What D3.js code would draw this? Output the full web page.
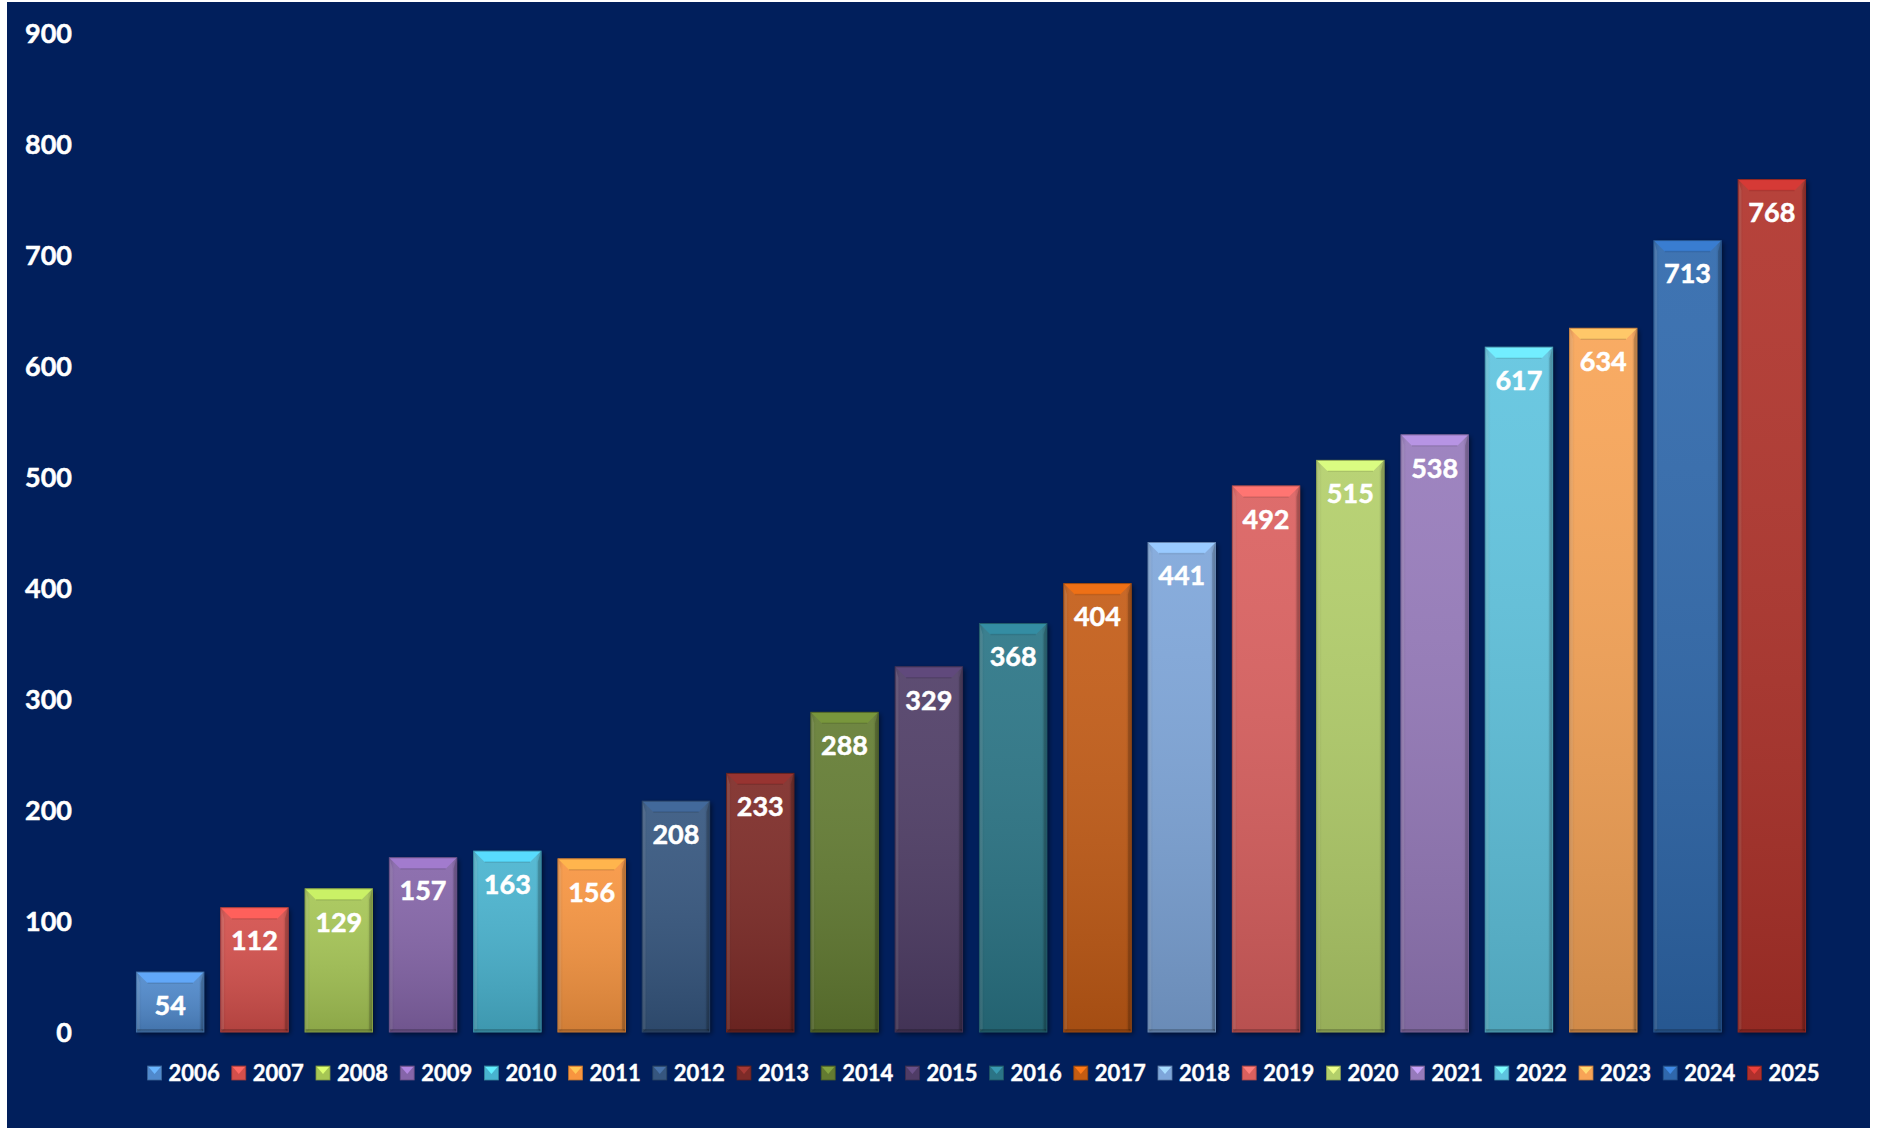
<!DOCTYPE html>
<html>
<head>
<meta charset="utf-8">
<script src="https://cdn.jsdelivr.net/npm/d3@7"></script>
<style>
  body { margin: 0; background: #fff; }
  svg { display: block; }
</style>
</head>
<body>
<div id="chart"></div>
<script>
// Bar chart per year, bevelled Excel-like bars on navy background

const years = ["2006", "2007", "2008", "2009", "2010", "2011", "2012", "2013", "2014", "2015",
  "2016", "2017", "2018", "2019", "2020", "2021", "2022", "2023", "2024", "2025"];
const values = [54, 112, 129, 157, 163, 156, 208, 233, 288, 329,
  368, 404, 441, 492, 515, 538, 617, 634, 713, 768];
const colors = ["#5089cc", "#d44f4b", "#a6c654", "#8565a9", "#48b4d0", "#f8953f",
  "#36567f", "#7d2b28", "#637b31", "#4f3c66", "#2b7486", "#c45c12",
  "#7ea6da", "#db605e", "#b3cf6a", "#967abb", "#5ec4df", "#f8a456",
  "#2f67ac", "#b0302c"];
const yTicks = [0, 100, 200, 300, 400, 500, 600, 700, 800, 900];

const width = 1885,
  height = 1130,
  bg = "#011f5c";

const svg = d3.select("#chart")
  .append("svg")
  .attr("width", width)
  .attr("height", height);

const defs = svg.append("defs");

// shading overlay: lighter top, darker bottom
const shade = defs.append("linearGradient")
  .attr("id", "shade")
  .attr("x1", 0).attr("y1", 0).attr("x2", 0).attr("y2", 1);
shade.append("stop").attr("offset", "0%").attr("stop-color", "#fff").attr("stop-opacity", 0.08);
shade.append("stop").attr("offset", "100%").attr("stop-color", "#000").attr("stop-opacity", 0.16);

const sideShade = defs.append("linearGradient")
  .attr("id", "sideShade")
  .attr("x1", 0).attr("y1", 0).attr("x2", 1).attr("y2", 0);
sideShade.append("stop").attr("offset", "0%").attr("stop-color", "#000").attr("stop-opacity", 0.12);
sideShade.append("stop").attr("offset", "8%").attr("stop-color", "#000").attr("stop-opacity", 0);
sideShade.append("stop").attr("offset", "92%").attr("stop-color", "#000").attr("stop-opacity", 0);
sideShade.append("stop").attr("offset", "100%").attr("stop-color", "#000").attr("stop-opacity", 0.18);

defs.append("filter")
  .attr("id", "shadow")
  .attr("x", "-20%").attr("y", "-10%").attr("width", "140%").attr("height", "120%")
  .append("feDropShadow")
  .attr("dx", 2).attr("dy", 2).attr("stdDeviation", 2.5)
  .attr("flood-color", "#000").attr("flood-opacity", 0.55);

svg.append("rect")
  .attr("x", 7)
  .attr("y", 2)
  .attr("width", 1863)
  .attr("height", 1126)
  .attr("fill", bg);

const x = d3.scaleBand()
  .domain(years)
  .range([128, 1814])
  .paddingInner(0.2)
  .paddingOuter(0.1);

const y = d3.scaleLinear()
  .domain([0, 900])
  .range([1032, 33]);

const font = "Lato, 'Open Sans', sans-serif";

// y axis labels
svg.append("g")
  .selectAll("text")
  .data(yTicks)
  .join("text")
  .attr("x", 72)
  .attr("y", d => y(d))
  .attr("dy", "0.36em")
  .attr("text-anchor", "end")
  .attr("font-family", font)
  .attr("font-weight", "bold")
  .attr("font-size", 27)
  .attr("fill", "#fff")
  .attr("stroke", "#fff")
  .attr("stroke-width", 0.5)
  .text(d => d);

const data = years.map((yr, i) => ({ year: yr, value: values[i], color: colors[i] }));

const bars = svg.append("g")
  .selectAll("g")
  .data(data)
  .join("g")
  .attr("transform", d => `translate(${x(d.year)},${y(d.value)})`);

const bw = x.bandwidth();
const bev = 11;
const h = d => y(0) - y(d.value);

bars.append("rect")
  .attr("width", bw)
  .attr("height", h)
  .attr("fill", d => d.color)
  .attr("filter", "url(#shadow)");

bars.append("rect")
  .attr("width", bw)
  .attr("height", h)
  .attr("fill", "url(#shade)");

bars.append("rect")
  .attr("width", bw)
  .attr("height", h)
  .attr("fill", "url(#sideShade)");

// top bevel
bars.append("path")
  .attr("d", `M0,0 H${bw} L${bw - bev},${bev} H${bev} Z`)
  .attr("fill", d => d3.color(d.color).brighter(0.55));

bars.append("path")
  .attr("d", `M${bev},${bev} H${bw - bev}`)
  .attr("stroke", "#000")
  .attr("stroke-opacity", 0.12)
  .attr("stroke-width", 1.5);

// side bevels
bars.append("path")
  .attr("d", d => `M0,0 L${bev * 0.3},${bev} V${h(d) - 3} L0,${h(d)} Z`)
  .attr("fill", "#fff")
  .attr("opacity", 0.1);

bars.append("path")
  .attr("d", d => `M${bw},0 L${bw - bev * 0.3},${bev} V${h(d) - 3} L${bw},${h(d)} Z`)
  .attr("fill", "#000")
  .attr("opacity", 0.15);

// bottom edge
bars.append("rect")
  .attr("y", d => h(d) - 3)
  .attr("width", bw)
  .attr("height", 3)
  .attr("fill", "#000")
  .attr("opacity", 0.2);

bars.append("rect")
  .attr("width", bw)
  .attr("height", h)
  .attr("fill", "none")
  .attr("stroke", d => d3.color(d.color).darker(0.6))
  .attr("stroke-width", 1);

// value labels
bars.append("text")
  .attr("x", bw / 2)
  .attr("y", 33)
  .attr("dy", "0.36em")
  .attr("text-anchor", "middle")
  .attr("font-family", font)
  .attr("font-weight", "bold")
  .attr("font-size", 27)
  .attr("fill", "#fff")
  .attr("stroke", "#fff")
  .attr("stroke-width", 0.5)
  .text(d => d.value);

// legend
const legend = svg.append("g")
  .selectAll("g")
  .data(data)
  .join("g")
  .attr("transform", (d, i) => `translate(${147.6 + i * 84.2},1073)`);

const ms = 14;

legend.append("rect")
  .attr("y", -ms / 2)
  .attr("width", ms)
  .attr("height", ms)
  .attr("fill", d => d.color)
  .attr("stroke", d => d3.color(d.color).darker(0.8))
  .attr("stroke-width", 0.8);

legend.append("path")
  .attr("d", `M1,${-ms / 2 + 1} H${ms - 1} L${ms / 2},${1} Z`)
  .attr("fill", d => d3.color(d.color).brighter(0.8));

legend.append("text")
  .attr("x", 21)
  .attr("dy", "0.36em")
  .attr("font-family", font)
  .attr("font-weight", "bold")
  .attr("font-size", 22)
  .attr("fill", "#fff")
  .attr("stroke", "#fff")
  .attr("stroke-width", 0.4)
  .text(d => d.year);
</script>
</body>
</html>
